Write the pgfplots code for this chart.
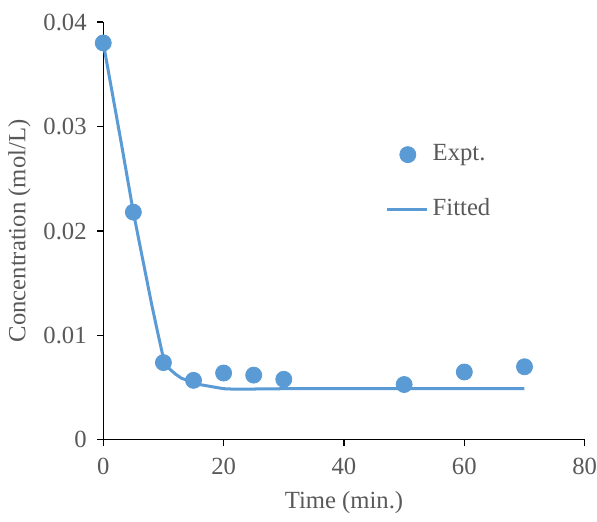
\documentclass[border=0pt]{standalone}
\usepackage{pgfplots}
\pgfplotsset{compat=1.18}
\usepackage{fontspec}
\setmainfont{Liberation Serif}
\definecolor{ser}{HTML}{5B9BD5}
\definecolor{txt}{HTML}{595959}
\begin{document}
\fontsize{12.3}{14}\selectfont
\begin{tikzpicture}
\begin{axis}[
  scale only axis,
  width=240pt, height=208.3pt,
  xmin=0, xmax=80, ymin=0, ymax=0.04,
  scaled y ticks=false,
  axis lines*=left,
  axis line style={black, line width=0.6pt},
  xtick={0,20,40,60,80},
  ytick={0,0.01,0.02,0.03,0.04},
  yticklabels={0,0.01,0.02,0.03,0.04},
  xticklabels={0,20,40,60,80},
  tick align=outside,
  major tick length=3pt,
  tick style={black, line width=0.6pt},
  ticklabel style={font=\fontsize{12.3}{14}\selectfont, text=txt},
  xticklabel style={yshift=-2pt, inner xsep=0pt},
  yticklabel style={xshift=-1pt},
  xlabel={Time (min.)},
  ylabel={Concentration (mol/L)},
  label style={font=\fontsize{12.3}{14}\selectfont, text=txt},
  xlabel style={yshift=0.5pt},
  ylabel style={yshift=-2pt},
  legend style={at={(0.586,0.717)}, anchor=north west, draw=none, fill=none,
    font=\fontsize{12.3}{14}\selectfont, text=txt, row sep=13pt,
    inner sep=0pt, cells={anchor=west}},
  legend image code/.code={\draw[#1] (0cm,0cm) -- (0.7cm,0cm);},
  clip=false,
  extra description/.code={\path (rel axis cs:0,1) ++(0,11pt);},
]
\addplot[only marks, mark=*, mark size=4pt, color=ser,
  legend image code/.code={\draw[##1] plot coordinates {(0.36cm,0cm)};}]
  coordinates {(0,0.0380) (5,0.0218) (10,0.0074) (15,0.0057) (20,0.0064)
    (25,0.0062) (30,0.0058) (50,0.0053) (60,0.0065) (70,0.0070)};
\addlegendentry{Expt.}
\addplot[no marks, color=ser, line width=1.5pt]
  coordinates {(0,0.0380) (1,0.0348) (2,0.0316) (3,0.0284) (4,0.0251) (5,0.0218)
    (6,0.0189) (7,0.0160) (8,0.0131) (9,0.0104) (10,0.0078) (11,0.0068)
    (12,0.0063) (13,0.0059) (14,0.0057) (15,0.0055) (16,0.0053) (17,0.0052)
    (18,0.0051) (19,0.0050) (20,0.0049) (22,0.00485) (25,0.00487) (30,0.0049)
    (40,0.0049) (50,0.0049) (60,0.0049) (70,0.0049)};
\addlegendentry{Fitted}
\end{axis}
\end{tikzpicture}
\end{document}
